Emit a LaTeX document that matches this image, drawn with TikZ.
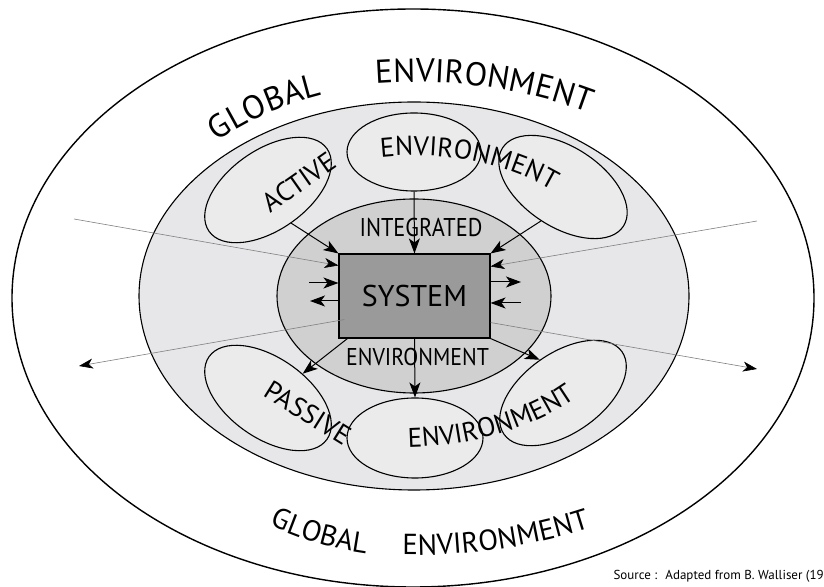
\documentclass[tikz,border=0pt]{standalone}
\usepackage{fontspec}
\setmainfont{PT Sans}
\usepackage{graphicx}
\usetikzlibrary{positioning,arrows.meta,shapes.geometric,decorations.text,calc}

\definecolor{midgray}{HTML}{E7E6E8}
\definecolor{innergray}{HTML}{D0D0D0}
\definecolor{subgray}{HTML}{EBEBEB}
\definecolor{sysgray}{HTML}{9A9A9A}

\newcommand\globfont{\fontsize{33}{33}\selectfont}
\newcommand\lowfont{\fontsize{29}{29}\selectfont}
\newcommand\envfont{\fontsize{27}{27}\selectfont}

\begin{document}
\begin{tikzpicture}[x=1pt, y=1pt,
    ring/.style={draw, ellipse, line width=1.1pt, inner sep=0pt},
    subenv/.style={ring, fill=subgray, minimum width=144, minimum height=80},
    arr/.style={-{Stealth[length=15pt, width=11pt, inset=4pt]}, line width=1pt},
    ray/.style={draw=gray, line width=0.6pt,
                -{Stealth[length=14pt, width=10pt, inset=4pt, color=black]}},
  ]
  \useasboundingbox (0,0) rectangle (824,586);
  \node[ring, line width=1.4pt, minimum width=802, minimum height=578] (glob) at (413,288) {};
  \node[ring, fill=midgray, minimum width=550, minimum height=388] (mid) at (414,290) {};
  \node[ring, fill=innergray, minimum width=274, minimum height=194] (integ) at (414,290) {};
  \node[subenv, minimum width=134, minimum height=78] (envT) at (414,434) {};
  \node[subenv, rotate=35] (envTL) at (268,396) {};
  \node[subenv, rotate=-33] (envTR) at (563,399) {};
  \node[subenv, rotate=-35] (envBL) at (268,188) {};
  \node[subenv, rotate=35] (envBR) at (563,193) {};
  \node[subenv, minimum width=136] (envB) at (415,148) {};
  \node[draw, fill=sysgray, line width=1.1pt, minimum width=151, minimum height=84,
        font=\fontsize{30}{30}\selectfont] (sys) at (414.5,290) {SYSTEM};
  \node[font=\fontsize{25.7}{25.7}\selectfont] (integLbl) at (421,358)
    {\scalebox{0.87}[1]{INTEGRATED}};
  \node[font=\fontsize{24.3}{24.3}\selectfont] (envLbl) at (417.5,229)
    {\scalebox{0.9}[1]{ENVIRONMENT}};
  \node[rotate=35, font=\envfont] (actLbl) at (299,404) {ACTIVE};
  \node[rotate=-32, font=\envfont] (pasLbl) at (308,173) {PASSIVE};
  \node[anchor=base west, font=\fontsize{13}{13}\selectfont] (src) at (610,6)
    {Source :~ Adapted from B. Walliser (19};

  \draw[arr] (envT.south) -- (sys.north);
  \draw[arr] (envTL.south) -- (sys.north west);
  \draw[arr] (envTR.south) -- (sys.north east);
  \draw[arr] ([xshift=9]sys.south west) -- (envBL.70);
  \draw[arr] (sys.south) -- (envB.north);
  \draw[arr] (sys.south east) -- (envBR.north);

  \coordinate (rayTL) at (74,367);
  \coordinate (rayTR) at (757,365);
  \coordinate (rayBL) at (79,220);
  \coordinate (rayBR) at (757,217);
  \draw[ray] (rayTL) -- ([yshift=-12]sys.north west);
  \draw[ray] (rayTR) -- ([yshift=-13]sys.north east);
  \draw[ray] ([xshift=6,yshift=19]sys.south west) -- (rayBL);
  \draw[ray] ([yshift=16]sys.south east) -- (rayBR);

  \coordinate (inL) at (309,303);
  \coordinate (outL) at (310,285);
  \coordinate (outR) at (521,304);
  \coordinate (inR) at (521,283);
  \draw[arr] (inL) -- (inL -| sys.west);
  \draw[arr] (outL -| sys.west) -- (outL);
  \draw[arr] (outR -| sys.east) -- (outR);
  \draw[arr] (inR) -- (inR -| sys.east);

  \path[decorate, decoration={text along path, text align=center, text={|\globfont|GLOBAL}}]
    ($(414,286)+(152:290pt and 216pt)$) arc[start angle=152, end angle=92, x radius=290pt, y radius=216pt];
  \path[decorate, decoration={text along path, text align=center, text={|\globfont|ENVIRONMENT}}]
    ($(414,286)+(110:342pt and 218pt)$) arc[start angle=110, end angle=44, x radius=342pt, y radius=218pt];
  \path[decorate, decoration={text along path, text align=center, text={|\lowfont|GLOBAL}}]
    ($(414,286)+(225:299pt and 257pt)$) arc[start angle=225, end angle=276, x radius=299pt, y radius=257pt];
  \path[decorate, decoration={text along path, text align=center, text={|\lowfont|ENVIRONMENT}}]
    ($(414,286)+(250:393pt and 255pt)$) arc[start angle=250, end angle=317, x radius=393pt, y radius=255pt];
  \path[decorate, decoration={text along path, text align=left, text={|\envfont|ENVIRONMENT}}]
    ($(414,286)+(99:212pt and 144.5pt)$) arc[start angle=99, end angle=15, x radius=212pt, y radius=144.5pt];
  \path[decorate, decoration={text along path, text align=left, text={|\envfont|ENVIRONMENT}}]
    ($(400,286)+(272:235pt and 147.5pt)$) arc[start angle=272, end angle=355, x radius=235pt, y radius=147.5pt];
\end{tikzpicture}
\end{document}
